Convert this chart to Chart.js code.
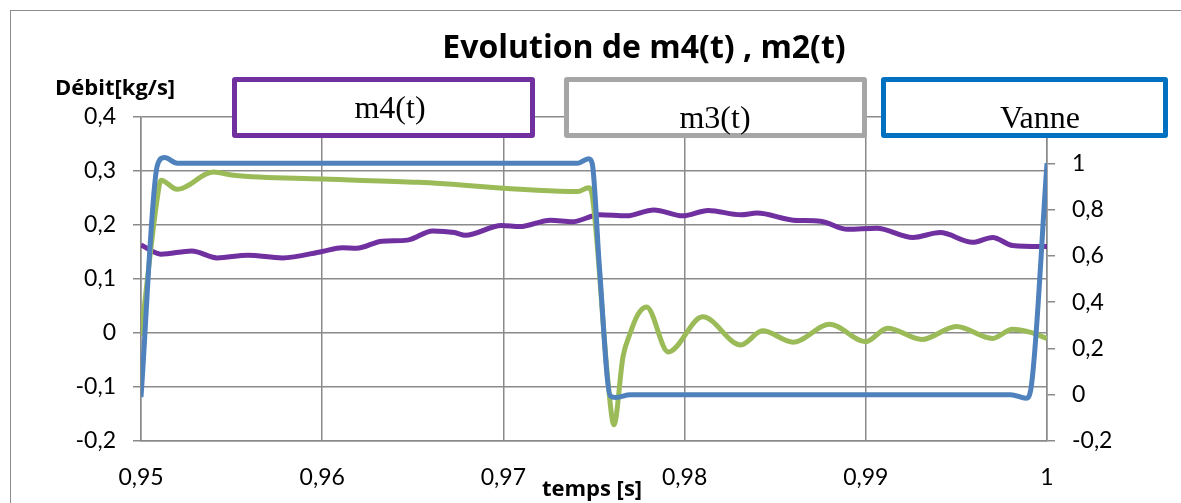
<!DOCTYPE html>
<html>
<head>
<meta charset="utf-8">
<script src="https://cdn.jsdelivr.net/npm/chart.js@4/dist/chart.umd.min.js"></script>
<style>
    body { margin: 0; background: #fff; }
    #wrap { position: relative; width: 1181px; height: 503px; overflow: hidden; background: #fff; }
    #frame { position: absolute; left: 10px; top: 10px; width: 1300px; height: 600px; border: 1px solid #8c8c8c; }
    #chart { position: absolute; left: 0; top: 0; }
    .txt { position: absolute; white-space: nowrap; line-height: 1; color: #000; }
    .bold { font-family: "Open Sans", sans-serif; font-weight: bold; }
    .box { position: absolute; top: 77px; height: 61px; box-sizing: border-box; border: 5px solid; border-radius: 3px; background: #fff; }
    .leg { font-family: "Liberation Serif", "Times New Roman", serif; font-size: 32px; text-align: center; }
</style>
</head>
<body>
<div id="wrap">
    <div id="frame"></div>
    <canvas id="chart" width="1181" height="503"></canvas>
    <div class="txt bold" style="left:0; width:1288px; text-align:center; top:30px; font-size:32px;">Evolution de m4(t) , m2(t)</div>
    <div class="txt bold" style="left:55px; top:75px; font-size:22px;">Débit[kg/s]</div>
    <div class="txt bold" style="left:0; width:1184px; text-align:center; top:476px; font-size:22px;">temps [s]</div>

    <div class="box" style="left:232px; width:303px; border-color:#7030A0;"></div>
    <div class="box" style="left:564px; width:303px; border-color:#A6A6A6;"></div>
    <div class="box" style="left:881px; width:287px; border-color:#0070C0;"></div>
    <div class="txt leg" style="left:232px; width:316px; top:91px;">m4(t)</div>
    <div class="txt leg" style="left:564px; width:302px; top:101px;">m3(t)</div>
    <div class="txt leg" style="left:881px; width:318px; top:101px;">Vanne</div>
</div>
<script>
// m4(t) - debit, left axis
const m4Time = [0.95, 0.9511, 0.9528, 0.9542, 0.9559, 0.9578, 0.96, 0.9611, 0.9619, 0.9633,
    0.9647, 0.9661, 0.9673, 0.9679, 0.9699, 0.9709, 0.9726, 0.9738, 0.9753, 0.9768,
    0.9783, 0.9799, 0.9813, 0.9831, 0.984, 0.986, 0.9875, 0.989, 0.9906, 0.9926,
    0.9941, 0.9959, 0.997, 0.9981, 1.0];
const m4Values = [0.163, 0.146, 0.152, 0.139, 0.144, 0.139, 0.151, 0.158, 0.157, 0.170,
    0.172, 0.189, 0.186, 0.181, 0.199, 0.197, 0.209, 0.206, 0.219, 0.217,
    0.228, 0.217, 0.227, 0.219, 0.222, 0.209, 0.207, 0.192, 0.194, 0.177,
    0.186, 0.168, 0.177, 0.162, 0.160];

// m3(t) - debit, left axis
const m3Time = [0.95, 0.9509, 0.9511, 0.952, 0.954, 0.9551, 0.96, 0.9653, 0.9741, 0.9747,
    0.9749, 0.9758, 0.9761, 0.9766, 0.977, 0.9774, 0.9779, 0.9791, 0.981, 0.9831,
    0.9843, 0.986, 0.988, 0.99, 0.9912, 0.9931, 0.995, 0.997, 0.9981, 0.9991, 1.0];
const m3Values = [-0.005, 0.25, 0.283, 0.266, 0.298, 0.292, 0.285, 0.279, 0.262, 0.269,
    0.255, -0.10, -0.170, -0.044, 0.0, 0.033, 0.048, -0.035, 0.030, -0.022,
    0.004, -0.017, 0.016, -0.016, 0.009, -0.012, 0.012, -0.010, 0.007, 0.001, -0.010];

// Vanne - right axis
const vanneTime = [0.95, 0.9509, 0.9513, 0.952, 0.9741, 0.9747, 0.9749, 0.9753, 0.9759, 0.9762,
    0.977, 0.998, 0.99885, 0.9991, 1.0];
const vanneValues = [-0.01, 0.99, 1.025, 1.0, 1.0, 1.02, 1.0, 0.55, -0.005, -0.012,
    0.0, 0.0, -0.015, 0.02, 1.0];

const xTicks = { min: 0.95, max: 1.0, step: 0.01 };
const yLeftTicks = { min: -0.2, max: 0.4, step: 0.1 };
const yRightTicks = { min: -0.2, max: 1.2, step: 0.2 };

function toPoints(t, v) {
    return t.map((x, i) => ({ x: x, y: v[i] }));
}
function comma(v, d) {
    return String(Number(v.toFixed(d))).replace('.', ',');
}

const gridColor = '#8a8a8a';
const tickFont = { family: 'Lato', size: 23 };

new Chart(document.getElementById('chart'), {
    type: 'line',
    data: {
        datasets: [
            {
                label: 'Vanne',
                data: toPoints(vanneTime, vanneValues),
                borderColor: '#4F81BD',
                yAxisID: 'y1',
                order: 0
            },
            {
                label: 'm3(t)',
                data: toPoints(m3Time, m3Values),
                borderColor: '#9BBB59',
                yAxisID: 'y',
                order: 1
            },
            {
                label: 'm4(t)',
                data: toPoints(m4Time, m4Values),
                borderColor: '#7030A0',
                yAxisID: 'y',
                order: 2
            }
        ]
    },
    options: {
        responsive: false,
        animation: false,
        layout: { padding: { top: 117, left: 0, right: 0, bottom: 0 } },
        elements: {
            line: { borderWidth: 5, cubicInterpolationMode: 'monotone', fill: false },
            point: { radius: 0 }
        },
        plugins: {
            legend: { display: false },
            title: { display: false },
            tooltip: { enabled: false }
        },
        scales: {
            x: {
                type: 'linear',
                min: xTicks.min,
                max: xTicks.max,
                afterFit: function(scale) { scale.height = 62; },
                grid: { color: gridColor, lineWidth: 1.5, drawTicks: false },
                border: { color: gridColor, width: 1.5 },
                ticks: {
                    stepSize: xTicks.step,
                    padding: 23,
                    color: '#000',
                    font: tickFont,
                    maxRotation: 0,
                    callback: v => comma(v, 2)
                }
            },
            y: {
                position: 'left',
                min: yLeftTicks.min,
                max: yLeftTicks.max,
                afterFit: function(scale) { scale.width = 141; },
                grid: { color: gridColor, lineWidth: 1.5, tickLength: 8 },
                border: { color: gridColor, width: 1.5 },
                ticks: {
                    stepSize: yLeftTicks.step,
                    padding: 17,
                    color: '#000',
                    font: tickFont,
                    callback: v => comma(v, 1)
                }
            },
            y1: {
                position: 'right',
                min: yRightTicks.min,
                max: yRightTicks.max,
                afterFit: function(scale) { scale.width = 134; },
                grid: { color: gridColor, lineWidth: 1.5, tickLength: 8, drawOnChartArea: false },
                border: { color: gridColor, width: 1.5 },
                ticks: {
                    stepSize: yRightTicks.step,
                    padding: 17,
                    color: '#000',
                    font: tickFont,
                    callback: v => comma(v, 1)
                }
            }
        }
    }
});
</script>
</body>
</html>
